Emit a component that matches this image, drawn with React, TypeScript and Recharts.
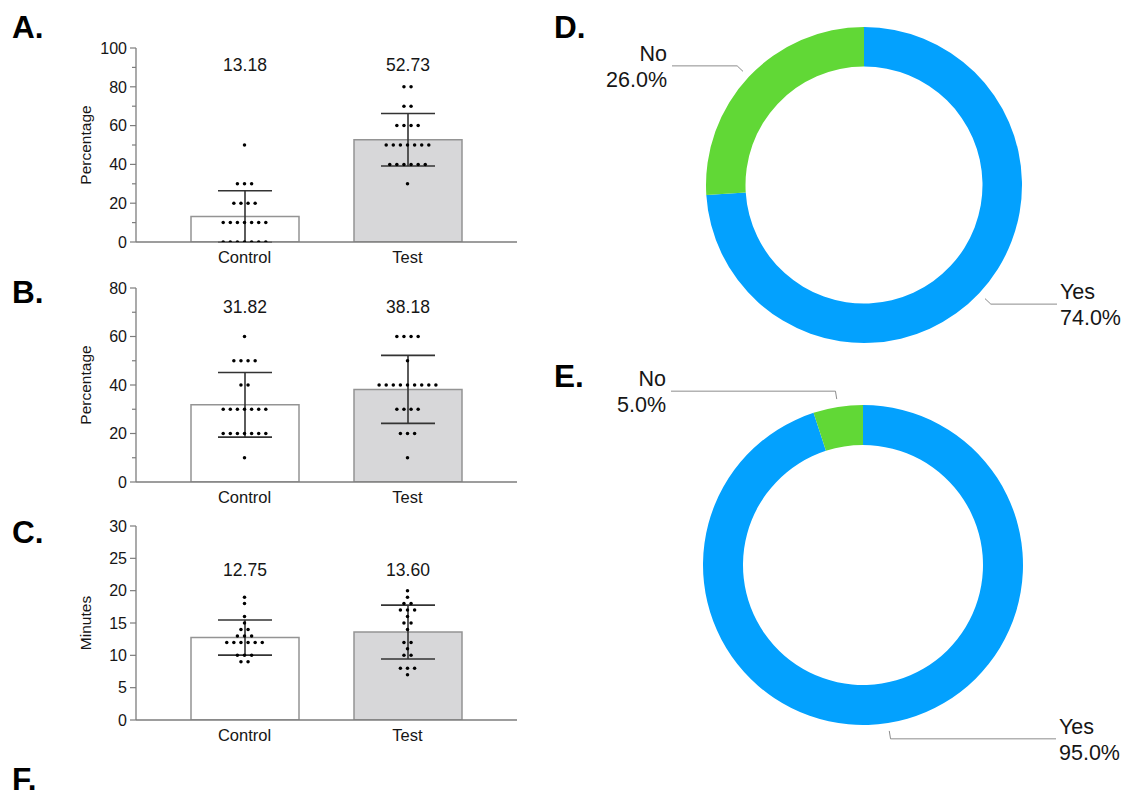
import React from 'react';
import {
  ComposedChart,
  Bar,
  ErrorBar,
  Scatter,
  XAxis,
  YAxis,
  LabelList,
  PieChart,
  Pie,
  Cell,
} from 'recharts';

const FONT = '"Liberation Sans", Arial, Helvetica, sans-serif';
const TXT = '#161616';
const AX = '#7d7d7d';

// ---------- data ----------
const groups = ['Control', 'Test'];

// Panel A (Percentage)
const aControl = [0, 0, 0, 0, 0, 0, 0, 10, 10, 10, 10, 10, 10, 10, 20, 20, 20, 20, 30, 30, 30, 50];
const aTest = [30, 40, 40, 40, 40, 40, 40, 50, 50, 50, 50, 50, 50, 50, 60, 60, 60, 60, 70, 70, 80, 80];

// Panel B (Percentage)
const bControl = [10, 20, 20, 20, 20, 20, 20, 20, 30, 30, 30, 30, 30, 30, 30, 40, 40, 50, 50, 50, 50, 60];
const bTest = [10, 20, 20, 20, 30, 30, 30, 30, 40, 40, 40, 40, 40, 40, 40, 40, 40, 50, 60, 60, 60, 60];

// Panel C (Minutes)
const cControl = [9, 9, 10, 10, 10, 12, 12, 12, 12, 12, 12, 13, 13, 13, 14, 14, 15, 16, 18, 19];
const cTest = [7, 8, 8, 8, 10, 10, 11, 12, 12, 14, 15, 15, 16, 17, 17, 17, 18, 18, 19, 20];

// Axis ticks
const aTicks = [0, 10, 20, 30, 40, 50, 60, 70, 80, 90, 100];
const bTicks = [0, 10, 20, 30, 40, 50, 60, 70, 80];
const cTicks = [0, 5, 10, 15, 20, 25, 30];

// Pie data
const dPie = [
  { name: 'Yes', value: 74 },
  { name: 'No', value: 26 },
];
const ePie = [
  { name: 'Yes', value: 95 },
  { name: 'No', value: 5 },
];
const pieColors: Record<string, string> = { Yes: '#03a1fe', No: '#61d836' };

// ---------- helpers ----------
const mean = (a: number[]) => a.reduce((s, v) => s + v, 0) / a.length;
const sd = (a: number[]) => {
  const m = mean(a);
  return Math.sqrt(a.reduce((s, v) => s + (v - m) * (v - m), 0) / (a.length - 1));
};

function buildDots(name: string, vals: number[]) {
  const counts: Record<string, number> = {};
  vals.forEach((v) => (counts[v] = (counts[v] || 0) + 1));
  const seen: Record<string, number> = {};
  return vals.map((v) => {
    const n = counts[v];
    const i = seen[v] || 0;
    seen[v] = i + 1;
    return { name, value: v, off: i - (n - 1) / 2 };
  });
}

const CHART_H = 250;
const M_TOP = 20;
const M_BOTTOM = 6;
const X_H = 30;
const PLOT_H = CHART_H - M_TOP - M_BOTTOM - X_H;
const DOT_GAP = 7.1;
const barFills = ['#ffffff', '#d7d7d9'];

const DotShape = (p: any) => {
  if (p.cx == null || p.cy == null) return <g />;
  return <circle cx={p.cx + (p.payload?.off || 0) * DOT_GAP} cy={p.cy} r={1.75} fill="#000" />;
};

const YTick = (props: any) => {
  const { x, y, payload, labelStep } = props;
  const axisX = Number(x) + 9;
  const v = payload.value;
  const major = v % labelStep === 0;
  return (
    <g>
      <line x1={axisX - (major ? 6 : 4)} x2={axisX} y1={y} y2={y} stroke={AX} strokeWidth={1.2} />
      {major && (
        <text x={axisX - 9} y={y} dy="0.36em" textAnchor="end" fontSize={16} fill={TXT} fontFamily={FONT}>
          {v}
        </text>
      )}
    </g>
  );
};

interface PanelProps {
  plotTop: number;
  control: number[];
  test: number[];
  ticks: number[];
  labelStep: number;
  yLabel: string;
  labelTop: number;
}

function BarPanel({ plotTop, control, test, ticks, labelStep, yLabel, labelTop }: PanelProps) {
  const sets = [control, test];
  const barData = groups.map((g, i) => ({ name: g, mean: mean(sets[i]), err: sd(sets[i]) }));
  const dots = [...buildDots(groups[0], control), ...buildDots(groups[1], test)];
  const yMax = ticks[ticks.length - 1];

  const renderMean = (p: any) => {
    const x = Number(p.x);
    const w = Number(p.width);
    const base = Number(p.y) + Number(p.height);
    const ty = base - PLOT_H + labelTop;
    return (
      <text x={x + w / 2} y={ty} dy="0.36em" textAnchor="middle" fontSize={17.5} fill={TXT} fontFamily={FONT}>
        {Number(p.value).toFixed(2)}
      </text>
    );
  };

  return (
    <div style={{ position: 'absolute', left: 0, top: plotTop - M_TOP }}>
      <ComposedChart
        width={530}
        height={CHART_H}
        data={barData}
        margin={{ top: M_TOP, right: 13, bottom: M_BOTTOM, left: 34 }}
      >
        <XAxis
          dataKey="name"
          type="category"
          allowDuplicatedCategory={false}
          padding={{ left: 27, right: 28 }}
          tickLine={false}
          tickSize={0}
          tickMargin={9}
          height={X_H}
          axisLine={{ stroke: AX, strokeWidth: 1.3 }}
          tick={{ fill: TXT, fontSize: 16.5, fontFamily: FONT }}
        />
        <YAxis
          type="number"
          domain={[0, yMax]}
          allowDataOverflow
          ticks={ticks}
          interval={0}
          width={102}
          tickLine={false}
          tickSize={6}
          tickMargin={3}
          axisLine={{ stroke: AX, strokeWidth: 1.3 }}
          tick={(p: any) => <YTick {...p} labelStep={labelStep} />}
          label={{ value: yLabel, angle: -90, position: 'center', fontSize: 15.5, fill: TXT, fontFamily: FONT }}
        />
        <Bar dataKey="mean" barSize={108} isAnimationActive={false} stroke="#949494" strokeWidth={1.5}>
          {barData.map((d, i) => (
            <Cell key={d.name} fill={barFills[i]} />
          ))}
          <ErrorBar dataKey="err" width={27} stroke="#333" strokeWidth={1.6} direction="y" />
          <LabelList dataKey="mean" content={renderMean} />
        </Bar>
        <Scatter data={dots} dataKey="value" isAnimationActive={false} shape={DotShape} />
      </ComposedChart>
    </div>
  );
}

const renderPieLabel = (p: any) => {
  const RAD = Math.PI / 180;
  const { cx, cy, midAngle, outerRadius, name, percent } = p;
  const cos = Math.cos(-midAngle * RAD);
  const sin = Math.sin(-midAngle * RAD);
  const sx = cx + (outerRadius + 8) * cos;
  const sy = cy + (outerRadius + 8) * sin;
  const mx = cx + (outerRadius + 16) * cos;
  const my = cy + (outerRadius + 16) * sin;
  const right = cos >= 0;
  const ex = cx + (right ? 193 : -192);
  const tx = ex + (right ? 3 : -5);
  const anchor = right ? 'start' : 'end';
  return (
    <g>
      <polyline points={`${sx},${sy} ${mx},${my} ${ex},${my}`} fill="none" stroke="#8c8c8c" strokeWidth={1} />
      <text x={tx} y={my - 5} textAnchor={anchor} fontSize={21.5} fill={TXT} fontFamily={FONT}>
        {name}
      </text>
      <text x={tx} y={my + 21} textAnchor={anchor} fontSize={21.5} fill={TXT} fontFamily={FONT}>
        {(percent * 100).toFixed(1)}%
      </text>
    </g>
  );
};

function Donut({ data, top, height, cx, cy, r }: { data: { name: string; value: number }[]; top: number; height: number; cx: number; cy: number; r: number }) {
  return (
    <div style={{ position: 'absolute', left: 576, top }}>
      <PieChart width={560} height={height} margin={{ top: 0, right: 0, bottom: 0, left: 0 }}>
        <Pie
          data={data}
          dataKey="value"
          nameKey="name"
          cx={cx}
          cy={cy}
          innerRadius={r * 0.75}
          outerRadius={r}
          startAngle={90}
          endAngle={-270}
          stroke="none"
          isAnimationActive={false}
          label={renderPieLabel}
          labelLine={false}
        >
          {data.map((d) => (
            <Cell key={d.name} fill={pieColors[d.name]} />
          ))}
        </Pie>
      </PieChart>
    </div>
  );
}

const letters = [
  { t: 'A.', x: 12, y: 37.5 },
  { t: 'B.', x: 12, y: 303 },
  { t: 'C.', x: 12, y: 543 },
  { t: 'D.', x: 554, y: 38 },
  { t: 'E.', x: 554, y: 387 },
  { t: 'F.', x: 12, y: 790 },
];

export default function App() {
  return (
    <div style={{ position: 'absolute', left: 0, top: 0, width: 1136, height: 796, background: '#fff', overflow: 'hidden' }}>
      <BarPanel plotTop={47.5} control={aControl} test={aTest} ticks={aTicks} labelStep={20} yLabel="Percentage" labelTop={16.5} />
      <BarPanel plotTop={288.3} control={bControl} test={bTest} ticks={bTicks} labelStep={20} yLabel="Percentage" labelTop={18.4} />
      <BarPanel plotTop={525.7} control={cControl} test={cTest} ticks={cTicks} labelStep={5} yLabel="Minutes" labelTop={43.6} />
      <Donut data={dPie} top={0} height={350} cx={288} cy={185} r={158} />
      <Donut data={ePie} top={340} height={456} cx={287} cy={225} r={160} />
      <svg width={1136} height={796} style={{ position: 'absolute', left: 0, top: 0, pointerEvents: 'none' }}>
        {letters.map((l) => (
          <text key={l.t} x={l.x} y={l.y} fontSize={31.5} fontWeight="bold" fill="#000" fontFamily={FONT}>
            {l.t}
          </text>
        ))}
      </svg>
    </div>
  );
}
